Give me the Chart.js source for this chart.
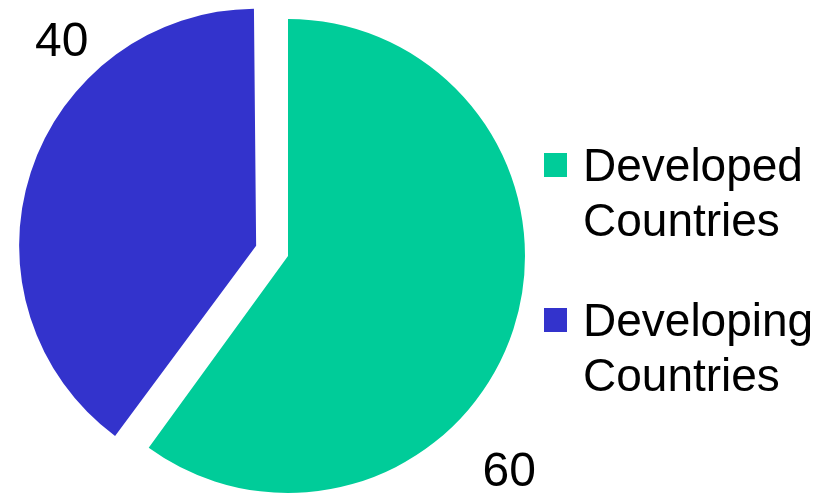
<!DOCTYPE html>
<html>
<head>
<meta charset="utf-8">
<script src="https://cdn.jsdelivr.net/npm/chart.js@4/dist/chart.umd.min.js"></script>
<style>
  html, body { margin: 0; padding: 0; background: #fff; }
  canvas { display: block; }
</style>
</head>
<body>
<canvas id="pie" width="836" height="494"></canvas>
<script>
// share of the total, by group
const categories = ['Developed Countries', 'Developing Countries']
const shares = [60, 40]
const sliceColors = ['#00CC99', '#3333CC']

// how far (px) each slice is pulled out from the centre
const explode = [0, 33.5]
// where each value label sits: fraction along the slice's arc, gap past the rim
const labelAlong = [0.62, 0.70]
const labelGap = [70, 47]

const pieRadius = 237
const fontFamily = '"Liberation Sans", Arial, sans-serif'

// chart.js moves an offset arc by offset/4 but also grows its radius,
// so shrink the radius back to keep every slice the same size
const explodeFix = {
  id: 'explodeFix',
  beforeDatasetsDraw(chart) {
    let meta = chart.getDatasetMeta(0)
    meta.data.forEach((arc, i) => {
      if (!explode[i]) return
      let fix = 1 - Math.sin(Math.min(Math.PI, arc.circumference))
      arc.outerRadius = pieRadius - explode[i] * fix
    })
  }
}

// value labels outside the rim
const valueLabels = {
  id: 'valueLabels',
  afterDatasetsDraw(chart) {
    let ctx = chart.ctx
    let meta = chart.getDatasetMeta(0)
    let size = 48
    ctx.save()
    ctx.font = size + 'px ' + fontFamily
    ctx.fillStyle = '#000'
    ctx.textAlign = 'center'
    ctx.textBaseline = 'alphabetic'
    meta.data.forEach((arc, i) => {
      let half = (arc.startAngle + arc.endAngle) / 2
      let cx = arc.x + Math.cos(half) * explode[i]
      let cy = arc.y + Math.sin(half) * explode[i]
      let a = arc.startAngle + (arc.endAngle - arc.startAngle) * labelAlong[i]
      let r = pieRadius + labelGap[i]
      ctx.fillText(String(shares[i]), cx + Math.cos(a) * r, cy + Math.sin(a) * r + size * 0.358)
    })
    ctx.restore()
  }
}

// legend on the right, names wrapped onto two lines
const sideLegend = {
  id: 'sideLegend',
  afterDraw(chart) {
    let ctx = chart.ctx
    let x = 544, top = 153, step = 155, lineH = 55
    ctx.save()
    ctx.font = '46px ' + fontFamily
    ctx.textBaseline = 'alphabetic'
    ctx.textAlign = 'left'
    categories.forEach((name, i) => {
      let y = top + i * step
      ctx.fillStyle = sliceColors[i]
      ctx.fillRect(x, y, 23, 24)
      ctx.fillStyle = '#000'
      name.split(' ').forEach((word, j) => {
        ctx.fillText(word, x + 39, y + 28 + j * lineH)
      })
    })
    ctx.restore()
  }
}

new Chart(document.getElementById('pie'), {
  type: 'pie',
  data: {
    labels: categories,
    datasets: [{
      data: shares,
      backgroundColor: sliceColors,
      borderWidth: 0,
      offset: explode.map(e => e * 4)
    }]
  },
  options: {
    responsive: false,
    animation: false,
    events: [],
    radius: pieRadius,
    layout: { padding: { left: 0, right: 260, top: 18, bottom: 0 } },
    plugins: {
      legend: { display: false },
      tooltip: { enabled: false }
    }
  },
  plugins: [explodeFix, valueLabels, sideLegend]
})
</script>
</body>
</html>
